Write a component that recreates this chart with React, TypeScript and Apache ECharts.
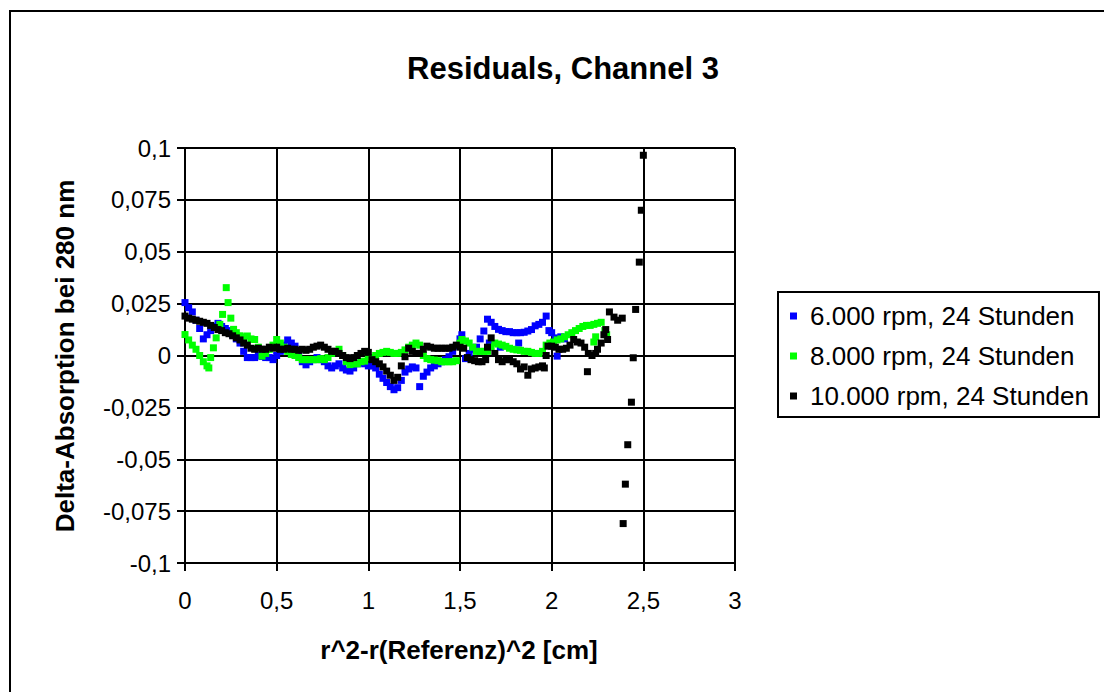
import React, { useEffect, useRef } from "react";
import * as echarts from "echarts";

const TITLE = "Residuals, Channel 3";
const X_TITLE = "r^2-r(Referenz)^2 [cm]";
const Y_TITLE = "Delta-Absorption bei 280 nm";
const SERIES_NAMES = ["6.000 rpm, 24 Stunden", "8.000 rpm, 24 Stunden", "10.000 rpm, 24 Stunden"];
const SERIES_COLORS = ["#0000FF", "#00FF00", "#000000"];

const BLUE_6000: [number, number][] = [
  [0.0, 0.0255], [0.02, 0.023], [0.04, 0.021], [0.06, 0.017], [0.08, 0.013], [0.1, 0.008],
  [0.12, 0.01], [0.14, 0.012], [0.16, 0.014], [0.18, 0.0155], [0.2, 0.014], [0.22, 0.013],
  [0.24, 0.012], [0.26, 0.01], [0.28, 0.008], [0.3, 0.006], [0.32, 0.002], [0.34, -0.001],
  [0.36, -0.001], [0.38, -0.001], [0.4, 0.0], [0.42, -0.0005], [0.44, -0.001], [0.46, -0.001],
  [0.48, -0.002], [0.5, 0.0], [0.52, 0.002], [0.54, 0.005], [0.56, 0.0075], [0.58, 0.006],
  [0.6, 0.0045], [0.62, 0.001], [0.64, -0.003], [0.66, -0.0045], [0.68, -0.003], [0.7, -0.002],
  [0.72, -0.001], [0.74, -0.002], [0.76, -0.003], [0.78, -0.005], [0.8, -0.006], [0.82, -0.005],
  [0.84, -0.004], [0.86, -0.006], [0.88, -0.007], [0.9, -0.0075], [0.92, -0.006], [0.94, -0.004],
  [0.96, -0.0035], [0.98, -0.004], [1.0, -0.005], [1.02, -0.005], [1.04, -0.006], [1.06, -0.009],
  [1.08, -0.011], [1.1, -0.013], [1.12, -0.015], [1.14, -0.0165], [1.16, -0.0155], [1.18, -0.012],
  [1.2, -0.008], [1.22, -0.0065], [1.24, -0.0055], [1.26, -0.006], [1.28, -0.015], [1.3, -0.01],
  [1.32, -0.008], [1.34, -0.006], [1.36, -0.005], [1.38, -0.004], [1.4, -0.003], [1.42, -0.002],
  [1.44, -0.0006], [1.46, 0.002], [1.48, 0.0045], [1.5, 0.008], [1.51, 0.01], [1.53, -0.0015],
  [1.55, 0.001], [1.57, 0.003], [1.59, 0.004], [1.61, 0.008], [1.63, 0.0118], [1.65, 0.0175],
  [1.66, 0.006], [1.67, 0.016], [1.69, 0.014], [1.71, 0.0126], [1.72, 0.004], [1.73, 0.012],
  [1.75, 0.0115], [1.77, 0.0115], [1.79, 0.011], [1.81, 0.011], [1.82, 0.006], [1.83, 0.011],
  [1.85, 0.0112], [1.87, 0.0118], [1.89, 0.0125], [1.91, 0.0143], [1.93, 0.015], [1.95, 0.016],
  [1.97, 0.019], [1.985, 0.012], [2.0, 0.011], [2.02, 0.0085], [2.03, -0.0003], [2.05, 0.009],
  [2.07, 0.008],
];

const GREEN_8000: [number, number][] = [
  [0.0, 0.0101], [0.02, 0.0075], [0.04, 0.005], [0.06, 0.003], [0.08, 0.0], [0.1, -0.003],
  [0.12, -0.005], [0.13, -0.006], [0.14, -0.001], [0.155, 0.0037], [0.17, 0.0085], [0.19, 0.015],
  [0.205, 0.0198], [0.225, 0.0327], [0.235, 0.0255], [0.25, 0.018], [0.265, 0.0126], [0.28, 0.011],
  [0.3, 0.0095], [0.32, 0.009], [0.34, 0.0094], [0.36, 0.008], [0.38, 0.0077], [0.4, 0.004],
  [0.42, -0.0003], [0.44, 0.001], [0.46, 0.003], [0.48, 0.005], [0.5, 0.0077], [0.52, 0.006],
  [0.54, 0.004], [0.56, 0.002], [0.58, 0.0005], [0.6, 0.0], [0.62, -0.001], [0.64, -0.002],
  [0.66, -0.002], [0.68, -0.002], [0.7, -0.002], [0.72, -0.002], [0.74, -0.0015], [0.76, -0.002],
  [0.78, -0.001], [0.8, 0.001], [0.82, 0.002], [0.84, 0.003], [0.86, 0.0], [0.88, -0.003],
  [0.9, -0.0044], [0.92, -0.004], [0.94, -0.004], [0.96, -0.003], [0.98, -0.0027], [1.0, -0.001],
  [1.02, -0.001], [1.04, 0.0], [1.06, 0.001], [1.08, 0.0015], [1.1, 0.002], [1.12, 0.0015],
  [1.14, 0.001], [1.16, 0.001], [1.18, 0.0015], [1.2, 0.0027], [1.22, 0.004], [1.24, 0.005],
  [1.26, 0.006], [1.28, 0.005], [1.3, 0.0], [1.32, -0.0015], [1.34, -0.002], [1.36, -0.0022],
  [1.38, -0.0025], [1.4, -0.003], [1.42, -0.003], [1.44, -0.003], [1.46, -0.003], [1.48, -0.0025],
  [1.5, 0.006], [1.51, 0.0077], [1.53, 0.007], [1.55, 0.006], [1.57, 0.004], [1.59, 0.002],
  [1.61, 0.002], [1.63, 0.002], [1.65, 0.002], [1.67, 0.004], [1.69, 0.006], [1.71, 0.0055],
  [1.73, 0.005], [1.75, 0.0044], [1.77, 0.0035], [1.79, 0.003], [1.81, 0.0027], [1.83, 0.0025],
  [1.85, 0.002], [1.87, 0.002], [1.89, 0.0015], [1.91, 0.001], [1.93, 0.001], [1.95, 0.002],
  [1.97, 0.005], [1.99, 0.006], [2.01, 0.0065], [2.03, 0.0075], [2.05, 0.008], [2.07, 0.009],
  [2.09, 0.01], [2.11, 0.011], [2.13, 0.012], [2.15, 0.013], [2.17, 0.014], [2.19, 0.0145],
  [2.21, 0.0145], [2.23, 0.015], [2.23, 0.0065], [2.24, 0.009], [2.25, 0.0155], [2.27, 0.016],
  [2.29, 0.012], [2.3, 0.01],
];

const BLACK_10000: [number, number][] = [
  [0.0, 0.019], [0.02, 0.018], [0.04, 0.0175], [0.06, 0.017], [0.08, 0.0165], [0.1, 0.016],
  [0.12, 0.0155], [0.14, 0.0145], [0.16, 0.0135], [0.18, 0.0125], [0.2, 0.012], [0.22, 0.011],
  [0.24, 0.0105], [0.26, 0.0095], [0.28, 0.0085], [0.3, 0.0075], [0.32, 0.006], [0.34, 0.005],
  [0.36, 0.0035], [0.38, 0.003], [0.4, 0.0035], [0.42, 0.003], [0.44, 0.003], [0.46, 0.004],
  [0.48, 0.0035], [0.5, 0.004], [0.52, 0.003], [0.54, 0.003], [0.56, 0.0035], [0.58, 0.003],
  [0.6, 0.003], [0.62, 0.0025], [0.64, 0.003], [0.66, 0.0025], [0.68, 0.003], [0.7, 0.004],
  [0.72, 0.0045], [0.74, 0.005], [0.76, 0.004], [0.78, 0.003], [0.8, 0.002], [0.82, 0.002],
  [0.84, 0.001], [0.86, 0.0], [0.88, -0.001], [0.9, -0.0015], [0.92, -0.001], [0.94, 0.0],
  [0.96, 0.001], [0.98, 0.002], [1.0, 0.0015], [1.02, -0.002], [1.04, -0.003], [1.06, -0.004],
  [1.08, -0.0055], [1.1, -0.0075], [1.12, -0.0095], [1.14, -0.012], [1.16, -0.0105], [1.18, -0.005],
  [1.2, -0.0006], [1.22, 0.0035], [1.24, 0.002], [1.26, 0.001], [1.28, 0.001], [1.3, 0.003],
  [1.32, 0.0045], [1.34, 0.004], [1.36, 0.0035], [1.38, 0.0035], [1.4, 0.0035], [1.42, 0.0035],
  [1.44, 0.0035], [1.46, 0.004], [1.48, 0.005], [1.5, 0.004], [1.52, 0.0035], [1.54, -0.001],
  [1.56, -0.002], [1.58, -0.0025], [1.6, -0.003], [1.62, -0.003], [1.64, -0.002], [1.65, 0.004],
  [1.67, 0.0085], [1.69, 0.001], [1.71, -0.002], [1.73, -0.003], [1.75, -0.002], [1.77, -0.002],
  [1.79, -0.003], [1.81, -0.004], [1.83, -0.0065], [1.85, -0.0055], [1.87, -0.0095], [1.89, -0.0065],
  [1.91, -0.006], [1.93, -0.0055], [1.95, -0.005], [1.96, -0.006], [1.97, 0.0], [1.98, 0.0045],
  [2.0, 0.0045], [2.02, 0.004], [2.04, 0.003], [2.06, 0.003], [2.08, 0.0035], [2.1, 0.005],
  [2.12, 0.0077], [2.14, 0.0065], [2.16, 0.006], [2.18, 0.004], [2.195, -0.0078], [2.2, 0.001],
  [2.22, 0.0], [2.24, 0.001], [2.25, 0.003], [2.27, 0.006], [2.285, 0.01], [2.295, 0.0125],
  [2.305, 0.0077], [2.315, 0.021], [2.34, 0.0185], [2.36, 0.017], [2.385, 0.018], [2.39, -0.081],
  [2.402, -0.062], [2.415, -0.043], [2.435, -0.0225], [2.445, -0.0011], [2.458, 0.0222],
  [2.478, 0.045], [2.489, 0.07], [2.5, 0.0965],
];

const X_MIN = 0;
const X_MAX = 3;
const X_STEP = 0.5;
const Y_MIN = -0.1;
const Y_MAX = 0.1;
const Y_STEP = 0.025;

const FONT = "'Liberation Sans', Arial, sans-serif";

const fmt = (v: number) => String(parseFloat(Number(v).toFixed(4))).replace(".", ",");

export default function App() {
  const ref = useRef<HTMLDivElement>(null);
  useEffect(() => {
    document.body.style.margin = "0";
    if (!ref.current) return;
    const chart = echarts.init(ref.current, undefined, { renderer: "svg" });
    const datasets = [BLUE_6000, GREEN_8000, BLACK_10000];
    chart.setOption({
      animation: false,
      backgroundColor: "#ffffff",
      grid: { left: 185, top: 148, width: 550, height: 415, containLabel: false },
      xAxis: {
        type: "value",
        min: X_MIN,
        max: X_MAX,
        interval: X_STEP,
        axisLine: { show: true, onZero: false, lineStyle: { color: "#000", width: 2 } },
        axisTick: { show: true, length: 8, lineStyle: { color: "#000", width: 2 } },
        axisLabel: { color: "#000", fontSize: 24, fontFamily: FONT, margin: 25, formatter: fmt },
        splitLine: { show: true, lineStyle: { color: "#000", width: 2 } },
      },
      yAxis: {
        type: "value",
        min: Y_MIN,
        max: Y_MAX,
        interval: Y_STEP,
        axisLine: { show: true, onZero: false, lineStyle: { color: "#000", width: 2 } },
        axisTick: { show: true, length: 8, lineStyle: { color: "#000", width: 2 } },
        axisLabel: { color: "#000", fontSize: 24, fontFamily: FONT, margin: 14, formatter: fmt },
        splitLine: { show: true, lineStyle: { color: "#000", width: 2 } },
      },
      legend: {
        orient: "vertical",
        left: 778,
        top: 292,
        padding: [11, 10, 8, 12],
        itemGap: 14,
        itemWidth: 7,
        itemHeight: 7,
        icon: "rect",
        borderColor: "#000",
        borderWidth: 2,
        textStyle: { color: "#000", fontSize: 26, fontFamily: FONT, padding: [0, 0, 0, 8] },
        data: SERIES_NAMES,
      },
      graphic: [
        {
          type: "rect",
          silent: true,
          shape: { x: 10, y: 11, width: 1300, height: 900 },
          style: { fill: "none", stroke: "#000", lineWidth: 2 },
          z: 100,
        },
        {
          type: "text",
          x: 563,
          y: 68,
          style: {
            text: TITLE,
            fill: "#000",
            font: `bold 31px ${FONT}`,
            textAlign: "center",
            textVerticalAlign: "middle",
          },
        },
        {
          type: "text",
          x: 459,
          y: 650,
          style: {
            text: X_TITLE,
            fill: "#000",
            font: `bold 26px ${FONT}`,
            textAlign: "center",
            textVerticalAlign: "middle",
          },
        },
        {
          type: "text",
          x: 65,
          y: 356,
          rotation: Math.PI / 2,
          style: {
            text: Y_TITLE,
            fill: "#000",
            font: `bold 26px ${FONT}`,
            textAlign: "center",
            textVerticalAlign: "middle",
          },
        },
      ],
      series: datasets.map((d, i) => ({
        name: SERIES_NAMES[i],
        type: "scatter",
        data: d,
        symbol: "rect",
        symbolSize: 7,
        itemStyle: { color: SERIES_COLORS[i], opacity: 1 },
        emphasis: { disabled: true },
        z: 2 + i,
      })),
    });
    return () => chart.dispose();
  }, []);
  return <div ref={ref} style={{ width: 1104, height: 692 }} />;
}
